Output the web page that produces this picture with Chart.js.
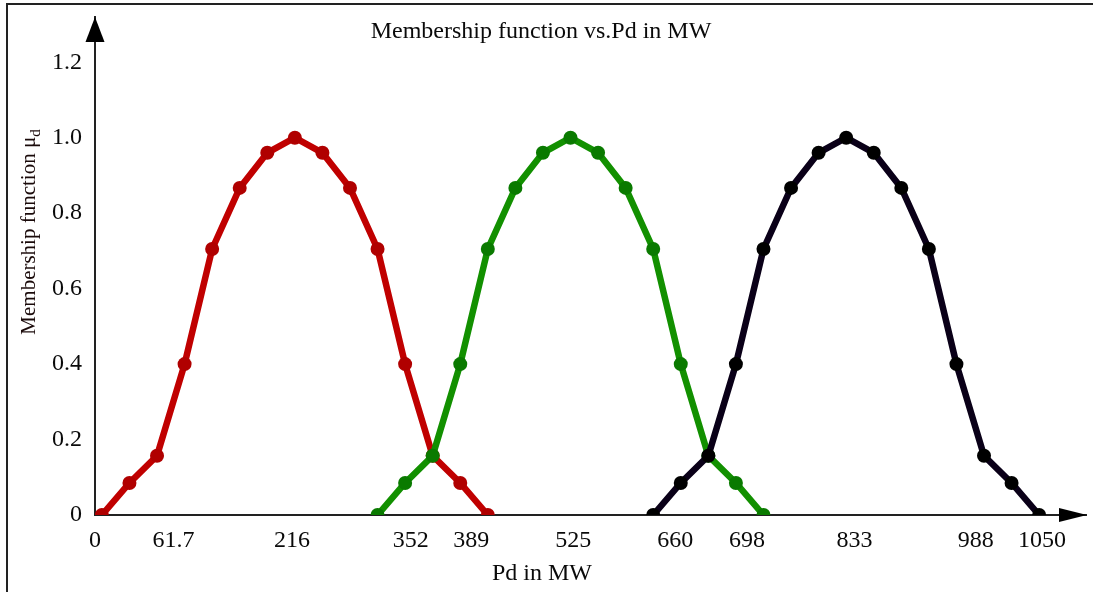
<!DOCTYPE html>
<html>
<head>
<meta charset="utf-8">
<script src="https://cdn.jsdelivr.net/npm/chart.js@4.4.1/dist/chart.umd.min.js"></script>
<style>
  html, body { margin: 0; padding: 0; background: #fff; }
  #wrap { width: 1093px; height: 592px; position: relative; }
</style>
</head>
<body>
<div id="wrap"><canvas id="myChart"></canvas></div>
<script>
// sample positions along the Pd axis (equal spacing in the original figure)
const redX   = [0, 1, 2, 3, 4, 5, 6, 7, 8, 9, 10, 11, 12, 13, 14];
const greenX = [10, 11, 12, 13, 14, 15, 16, 17, 18, 19, 20, 21, 22, 23, 24];
const blackX = [20, 21, 22, 23, 24, 25, 26, 27, 28, 29, 30, 31, 32, 33, 34];

// membership values
const redY   = [0, 0.085, 0.157, 0.40, 0.705, 0.867, 0.96, 1.0, 0.96, 0.867, 0.705, 0.40, 0.157, 0.085, 0];
const greenY = [0, 0.085, 0.157, 0.40, 0.705, 0.867, 0.96, 1.0, 0.96, 0.867, 0.705, 0.40, 0.157, 0.085, 0];
const blackY = [0, 0.085, 0.157, 0.40, 0.705, 0.867, 0.96, 1.0, 0.96, 0.867, 0.705, 0.40, 0.157, 0.085, 0];

// tick labels of the Pd axis and where they sit along it
const xTickLabels = ['0', '61.7', '216', '352', '389', '525', '660', '698', '833', '988', '1050'];
const xTickPos    = [-0.25, 2.6, 6.9, 11.2, 13.4, 17.1, 20.8, 23.4, 27.3, 31.7, 34.1];
const yTickValues = [0, 0.2, 0.4, 0.6, 0.8, 1.0, 1.2];
const yTickLabels = ['0', '0.2', '0.4', '0.6', '0.8', '1.0', '1.2'];

const FONT = "'Liberation Serif', 'Times New Roman', serif";

function pts(xs, ys) {
  return xs.map((x, i) => ({ x: x, y: ys[i] }));
}

const decor = {
  id: 'decor',
  afterDraw(chart) {
    const ctx = chart.ctx;
    const a = chart.chartArea;
    ctx.save();
    // frame lines
    ctx.strokeStyle = '#222';
    ctx.lineWidth = 2;
    ctx.beginPath();
    ctx.moveTo(7, 592);
    ctx.lineTo(7, 4);
    ctx.lineTo(1093, 4);
    ctx.stroke();
    // axis arrows
    ctx.fillStyle = '#000';
    ctx.beginPath();
    ctx.moveTo(a.left, a.top);
    ctx.lineTo(a.left - 9.5, a.top + 25);
    ctx.lineTo(a.left + 9.5, a.top + 25);
    ctx.closePath();
    ctx.fill();
    ctx.beginPath();
    ctx.moveTo(a.right + 1, a.bottom);
    ctx.lineTo(a.right - 27, a.bottom - 7);
    ctx.lineTo(a.right - 27, a.bottom + 7);
    ctx.closePath();
    ctx.fill();
    // title
    ctx.fillStyle = '#0a0a0a';
    ctx.font = '24px ' + FONT;
    ctx.textAlign = 'center';
    ctx.textBaseline = 'alphabetic';
    ctx.fillText('Membership function vs.Pd in MW', 541, 38);
    // x title
    ctx.fillText('Pd in MW', 542, 580);
    // y title with subscript d
    ctx.translate(35, 232);
    ctx.rotate(-Math.PI / 2);
    const main = 'Membership function \u03bc';
    ctx.font = '21px ' + FONT;
    const w1 = ctx.measureText(main).width;
    ctx.font = '15px ' + FONT;
    const w2 = ctx.measureText('d').width;
    const start = -(w1 + w2) / 2;
    ctx.textAlign = 'left';
    ctx.fillStyle = '#1a0a0a';
    ctx.font = '21px ' + FONT;
    ctx.fillText(main, start, 0);
    ctx.font = '15px ' + FONT;
    ctx.fillText('d', start + w1, 5);
    ctx.restore();
  }
};

const ctx = document.getElementById('myChart');

const chart = new Chart(ctx, {
  type: 'line',
  data: {
    datasets: [
      {
        label: 'low',
        data: pts(redX, redY),
        borderColor: '#c00000',
        backgroundColor: '#b00000',
        borderWidth: 6.5,
        pointRadius: 7,
        pointBorderWidth: 0,
        order: 3
      },
      {
        label: 'medium',
        data: pts(greenX, greenY),
        borderColor: '#129000',
        backgroundColor: '#0a7a00',
        borderWidth: 6.5,
        pointRadius: 7,
        pointBorderWidth: 0,
        order: 2
      },
      {
        label: 'high',
        data: pts(blackX, blackY),
        borderColor: '#0a0018',
        backgroundColor: '#000000',
        borderWidth: 6.5,
        pointRadius: 7,
        pointBorderWidth: 0,
        order: 1
      }
    ]
  },
  options: {
    responsive: true,
    maintainAspectRatio: false,
    animation: false,
    devicePixelRatio: 1,
    layout: { padding: { top: 17, right: 6, left: 0, bottom: 0 } },
    plugins: {
      legend: { display: false },
      title: { display: false },
      tooltip: { enabled: false }
    },
    scales: {
      x: {
        type: 'linear',
        min: -0.25,
        max: 35.7,
        grid: { display: false, drawTicks: false },
        border: { display: true, color: '#222', width: 2 },
        afterBuildTicks: (scale) => { scale.ticks = xTickPos.map(v => ({ value: v })); },
        afterFit: (scale) => { scale.height = 77; scale.paddingLeft = 0; scale.paddingRight = 0; },
        ticks: {
          autoSkip: false,
          maxRotation: 0,
          padding: 11,
          color: '#0a0a0a',
          font: { family: FONT, size: 24 },
          callback: (v, i) => xTickLabels[i]
        }
      },
      y: {
        min: 0,
        max: 1.32,
        grid: { display: false, drawTicks: false },
        border: { display: true, color: '#222', width: 2 },
        afterBuildTicks: (scale) => { scale.ticks = yTickValues.map(v => ({ value: v })); },
        afterFit: (scale) => { scale.width = 95; scale.paddingTop = 0; scale.paddingBottom = 0; },
        ticks: {
          padding: 13,
          color: '#0a0a0a',
          font: { family: FONT, size: 24 },
          callback: (v, i) => yTickLabels[i]
        }
      }
    }
  },
  plugins: [decor]
});
</script>
</body>
</html>
